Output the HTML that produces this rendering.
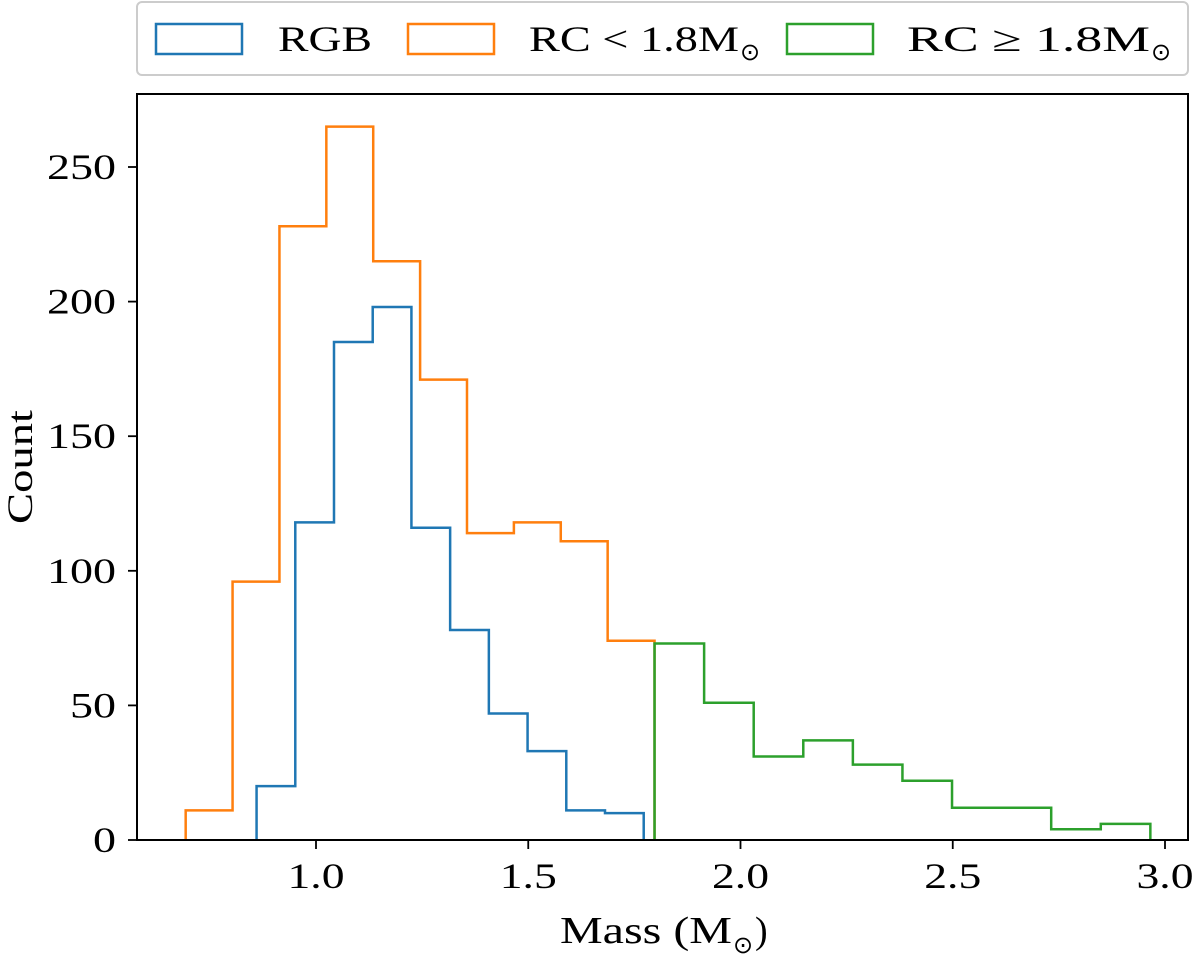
<!DOCTYPE html>
<html><head><meta charset="utf-8"><style>
body{margin:0;background:#fff;}
svg text{font-family:"Liberation Serif",serif;fill:#000;}
</style></head><body>
<svg id="chart" width="1200" height="956" xmlns="http://www.w3.org/2000/svg">
<g id="legend">
<rect x="137" y="2" width="1051" height="73" rx="5" fill="#fff" stroke="#ccc" stroke-width="2"/>
<g><rect x="156" y="24" width="86" height="30" fill="none" stroke="#1f77b4" stroke-width="2.5"/><text x="278" y="51" font-size="36" textLength="94" lengthAdjust="spacingAndGlyphs">RGB</text></g>
<g><rect x="408" y="24" width="86" height="30" fill="none" stroke="#ff7f0e" stroke-width="2.5"/><text x="529" y="51" font-size="36" textLength="210" lengthAdjust="spacingAndGlyphs">RC &lt; 1.8M</text><text x="740" y="60" font-size="24">⊙</text></g>
<g><rect x="787" y="24" width="86" height="30" fill="none" stroke="#2ca02c" stroke-width="2.5"/><text x="907" y="51" font-size="36" textLength="243" lengthAdjust="spacingAndGlyphs">RC ≥ 1.8M</text><text x="1151" y="60" font-size="24">⊙</text></g>
</g>
<g id="plot"></g>
<rect x="137" y="94" width="1051" height="746" fill="none" stroke="#000" stroke-width="2"/>
<g>
<text x="560" y="943" font-size="38" textLength="172" lengthAdjust="spacingAndGlyphs">Mass (M</text><text x="733" y="953" font-size="24">⊙</text><text x="755" y="943" font-size="38">)</text>
</g>
<text transform="translate(32,467) rotate(-90)" font-size="36" text-anchor="middle" textLength="114" lengthAdjust="spacingAndGlyphs">Count</text>
</svg>
<script>
const xTicks=[1.0,1.5,2.0,2.5,3.0];
const xTickLabels=["1.0","1.5","2.0","2.5","3.0"];
const yTicks=[0,50,100,150,200,250];
const yTickLabels=["0","50","100","150","200","250"];
const rgbStart=0.860, rgbWidth=0.0912;
const rgbCounts=[20,118,185,198,116,78,47,33,11,10];
const rcLowStart=0.693, rcLowWidth=0.11045;
const rcLowCounts=[11,96,228,265,215,171,114,118,111,74];
const rcHighStart=1.7975, rcHighWidth=0.1168;
const rcHighCounts=[73,51,31,37,28,22,12,12,4,6];

const NS="http://www.w3.org/2000/svg";
const X=m=>316+(m-1)*424.5;
const Y=v=>840-v*2.692;
const g=document.getElementById('plot');
function mk(t,a){const e=document.createElementNS(NS,t);for(const k in a)e.setAttribute(k,a[k]);return e;}
function lw(s){let w=0;for(const c of s)w+=(c==='.'?11:23);return w;}
function hist(start,w,counts,color,name){
  let d="M"+X(start)+","+Y(0);
  counts.forEach((c,i)=>{d+=" L"+X(start+i*w)+","+Y(c)+" L"+X(start+(i+1)*w)+","+Y(c);});
  d+=" L"+X(start+counts.length*w)+","+Y(0);
  const p=mk('path',{d:d,fill:'none',stroke:color,'stroke-width':2.5});
  
  
  g.appendChild(p);
}
hist(rcLowStart,rcLowWidth,rcLowCounts,'#ff7f0e','rc-low-histogram');
hist(rgbStart,rgbWidth,rgbCounts,'#1f77b4','rgb-histogram');
hist(rcHighStart,rcHighWidth,rcHighCounts,'#2ca02c','rc-high-histogram');
xTicks.forEach((t,i)=>{
  const l=mk('line',{x1:X(t),x2:X(t),y1:840,y2:849,stroke:'#000','stroke-width':1.8});
  
  
  g.appendChild(l);
  const s=xTickLabels[i];
  const tx=mk('text',{x:X(t),y:888,'font-size':36,'text-anchor':'middle',textLength:lw(s),lengthAdjust:'spacingAndGlyphs'});
  tx.textContent=s;
  
  
  g.appendChild(tx);
});
yTicks.forEach((t,i)=>{
  const l=mk('line',{x1:128,x2:137,y1:Y(t),y2:Y(t),stroke:'#000','stroke-width':1.8});
  
  
  g.appendChild(l);
  const s=yTickLabels[i];
  const tx=mk('text',{x:116,y:Y(t)+12,'font-size':36,'text-anchor':'end',textLength:lw(s),lengthAdjust:'spacingAndGlyphs'});
  tx.textContent=s;
  
  
  g.appendChild(tx);
});
</script>
</body></html>
